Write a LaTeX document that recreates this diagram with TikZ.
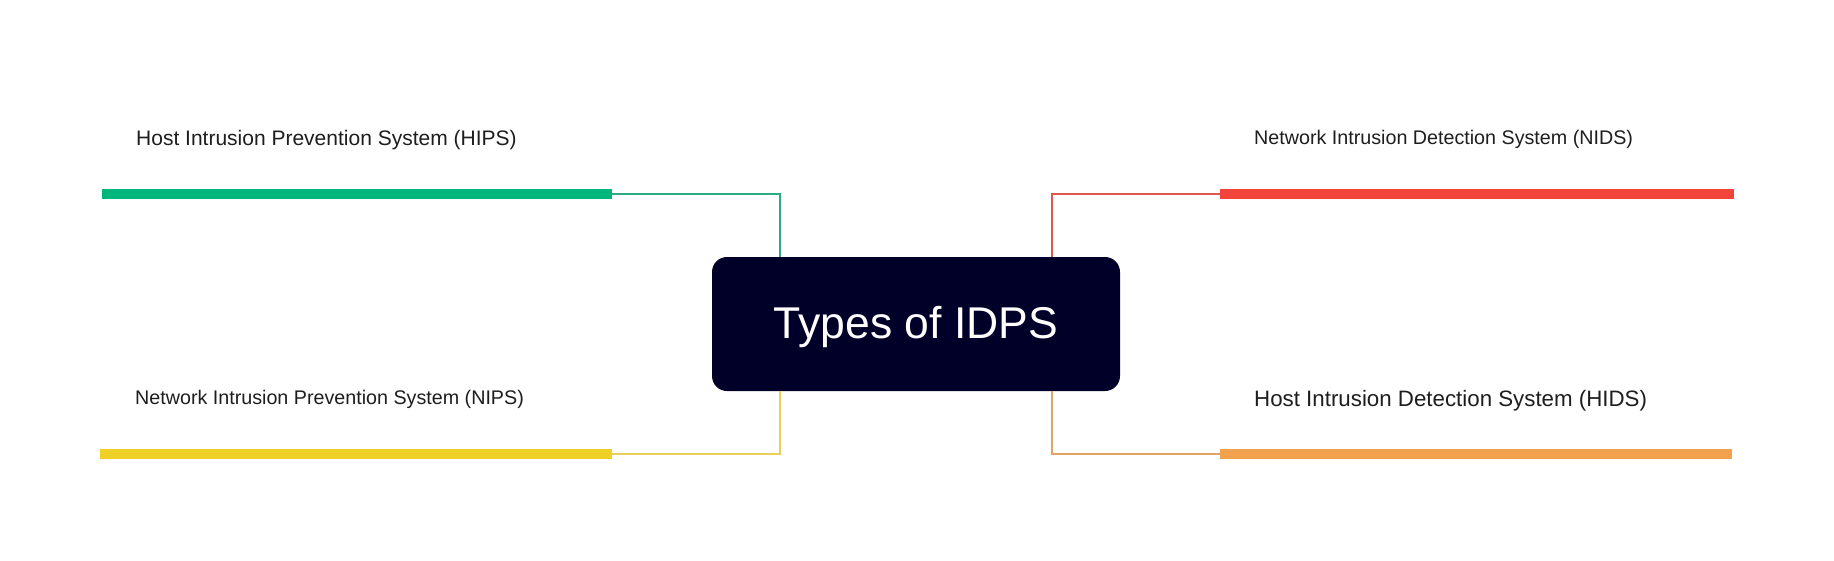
\documentclass[tikz,border=0pt]{standalone}
\usepackage{fontspec}
\setmainfont{Liberation Sans}
\definecolor{boxfill}{HTML}{000028}
\definecolor{greenbar}{HTML}{00B67A}
\definecolor{greenlink}{HTML}{2AAA85}
\definecolor{redbar}{HTML}{F2443B}
\definecolor{redlink}{HTML}{E0564C}
\definecolor{yellowbar}{HTML}{EFD027}
\definecolor{yellowlink}{HTML}{E9D05A}
\definecolor{orangebar}{HTML}{F2A14E}
\definecolor{orangelink}{HTML}{E2A462}
\definecolor{labtext}{HTML}{1E1E1E}
\begin{document}
\begin{tikzpicture}[x=1pt,y=-1pt,
  barline/.style={line width=10pt},
  linkline/.style={line width=2pt},
  biglabel/.style={anchor=base west,inner sep=0pt,text=labtext,font=\fontsize{21}{25}\selectfont},
  smalllabel/.style={anchor=base west,inner sep=0pt,text=labtext,font=\fontsize{19.7}{24}\selectfont},
  centerbox/.style={fill=boxfill,rounded corners=15pt,minimum width=408pt,minimum height=134pt,
    text=white,font=\fontsize{44.5}{52}\selectfont,text height=33pt,text depth=5pt,inner sep=0pt}]
\useasboundingbox (0,0) rectangle (1834,560);
\fill[white] (0,0) rectangle (1834,560);

\node[centerbox] (box) at (916,324) {Types of IDPS};

% anchor points on the box
\coordinate (bt1) at (780,257);
\coordinate (bt2) at (1052,257);
\coordinate (bb1) at (780,391);
\coordinate (bb2) at (1052,391);

% bars
\coordinate (ga) at (102,194);  \coordinate (gb) at (612,194);
\coordinate (ya) at (100,454);  \coordinate (yb) at (612,454);
\coordinate (ra) at (1220,194); \coordinate (rb) at (1734,194);
\coordinate (oa) at (1220,454); \coordinate (ob) at (1732,454);

\draw[barline,draw=greenbar] (ga) -- (gb);
\draw[barline,draw=yellowbar] (ya) -- (yb);
\draw[barline,draw=redbar] (ra) -- (rb);
\draw[barline,draw=orangebar] (oa) -- (ob);

% connectors
\draw[linkline,draw=greenlink] (gb) -| (bt1);
\draw[linkline,draw=yellowlink] (yb) -| (bb1);
\draw[linkline,draw=redlink] (ra) -| (bt2);
\draw[linkline,draw=orangelink] (oa) -| (bb2);

% labels
\node[biglabel] (hips) at (136,145) {Host Intrusion Prevention System (HIPS)};
\node[smalllabel] (nips) at (135,404) {Network Intrusion Prevention System (NIPS)};
\node[smalllabel] (nids) at (1254,144) {Network Intrusion Detection System (NIDS)};
\node[biglabel,font=\fontsize{22.3}{26}\selectfont] (hids) at (1254,406) {Host Intrusion Detection System (HIDS)};
\end{tikzpicture}
\end{document}
